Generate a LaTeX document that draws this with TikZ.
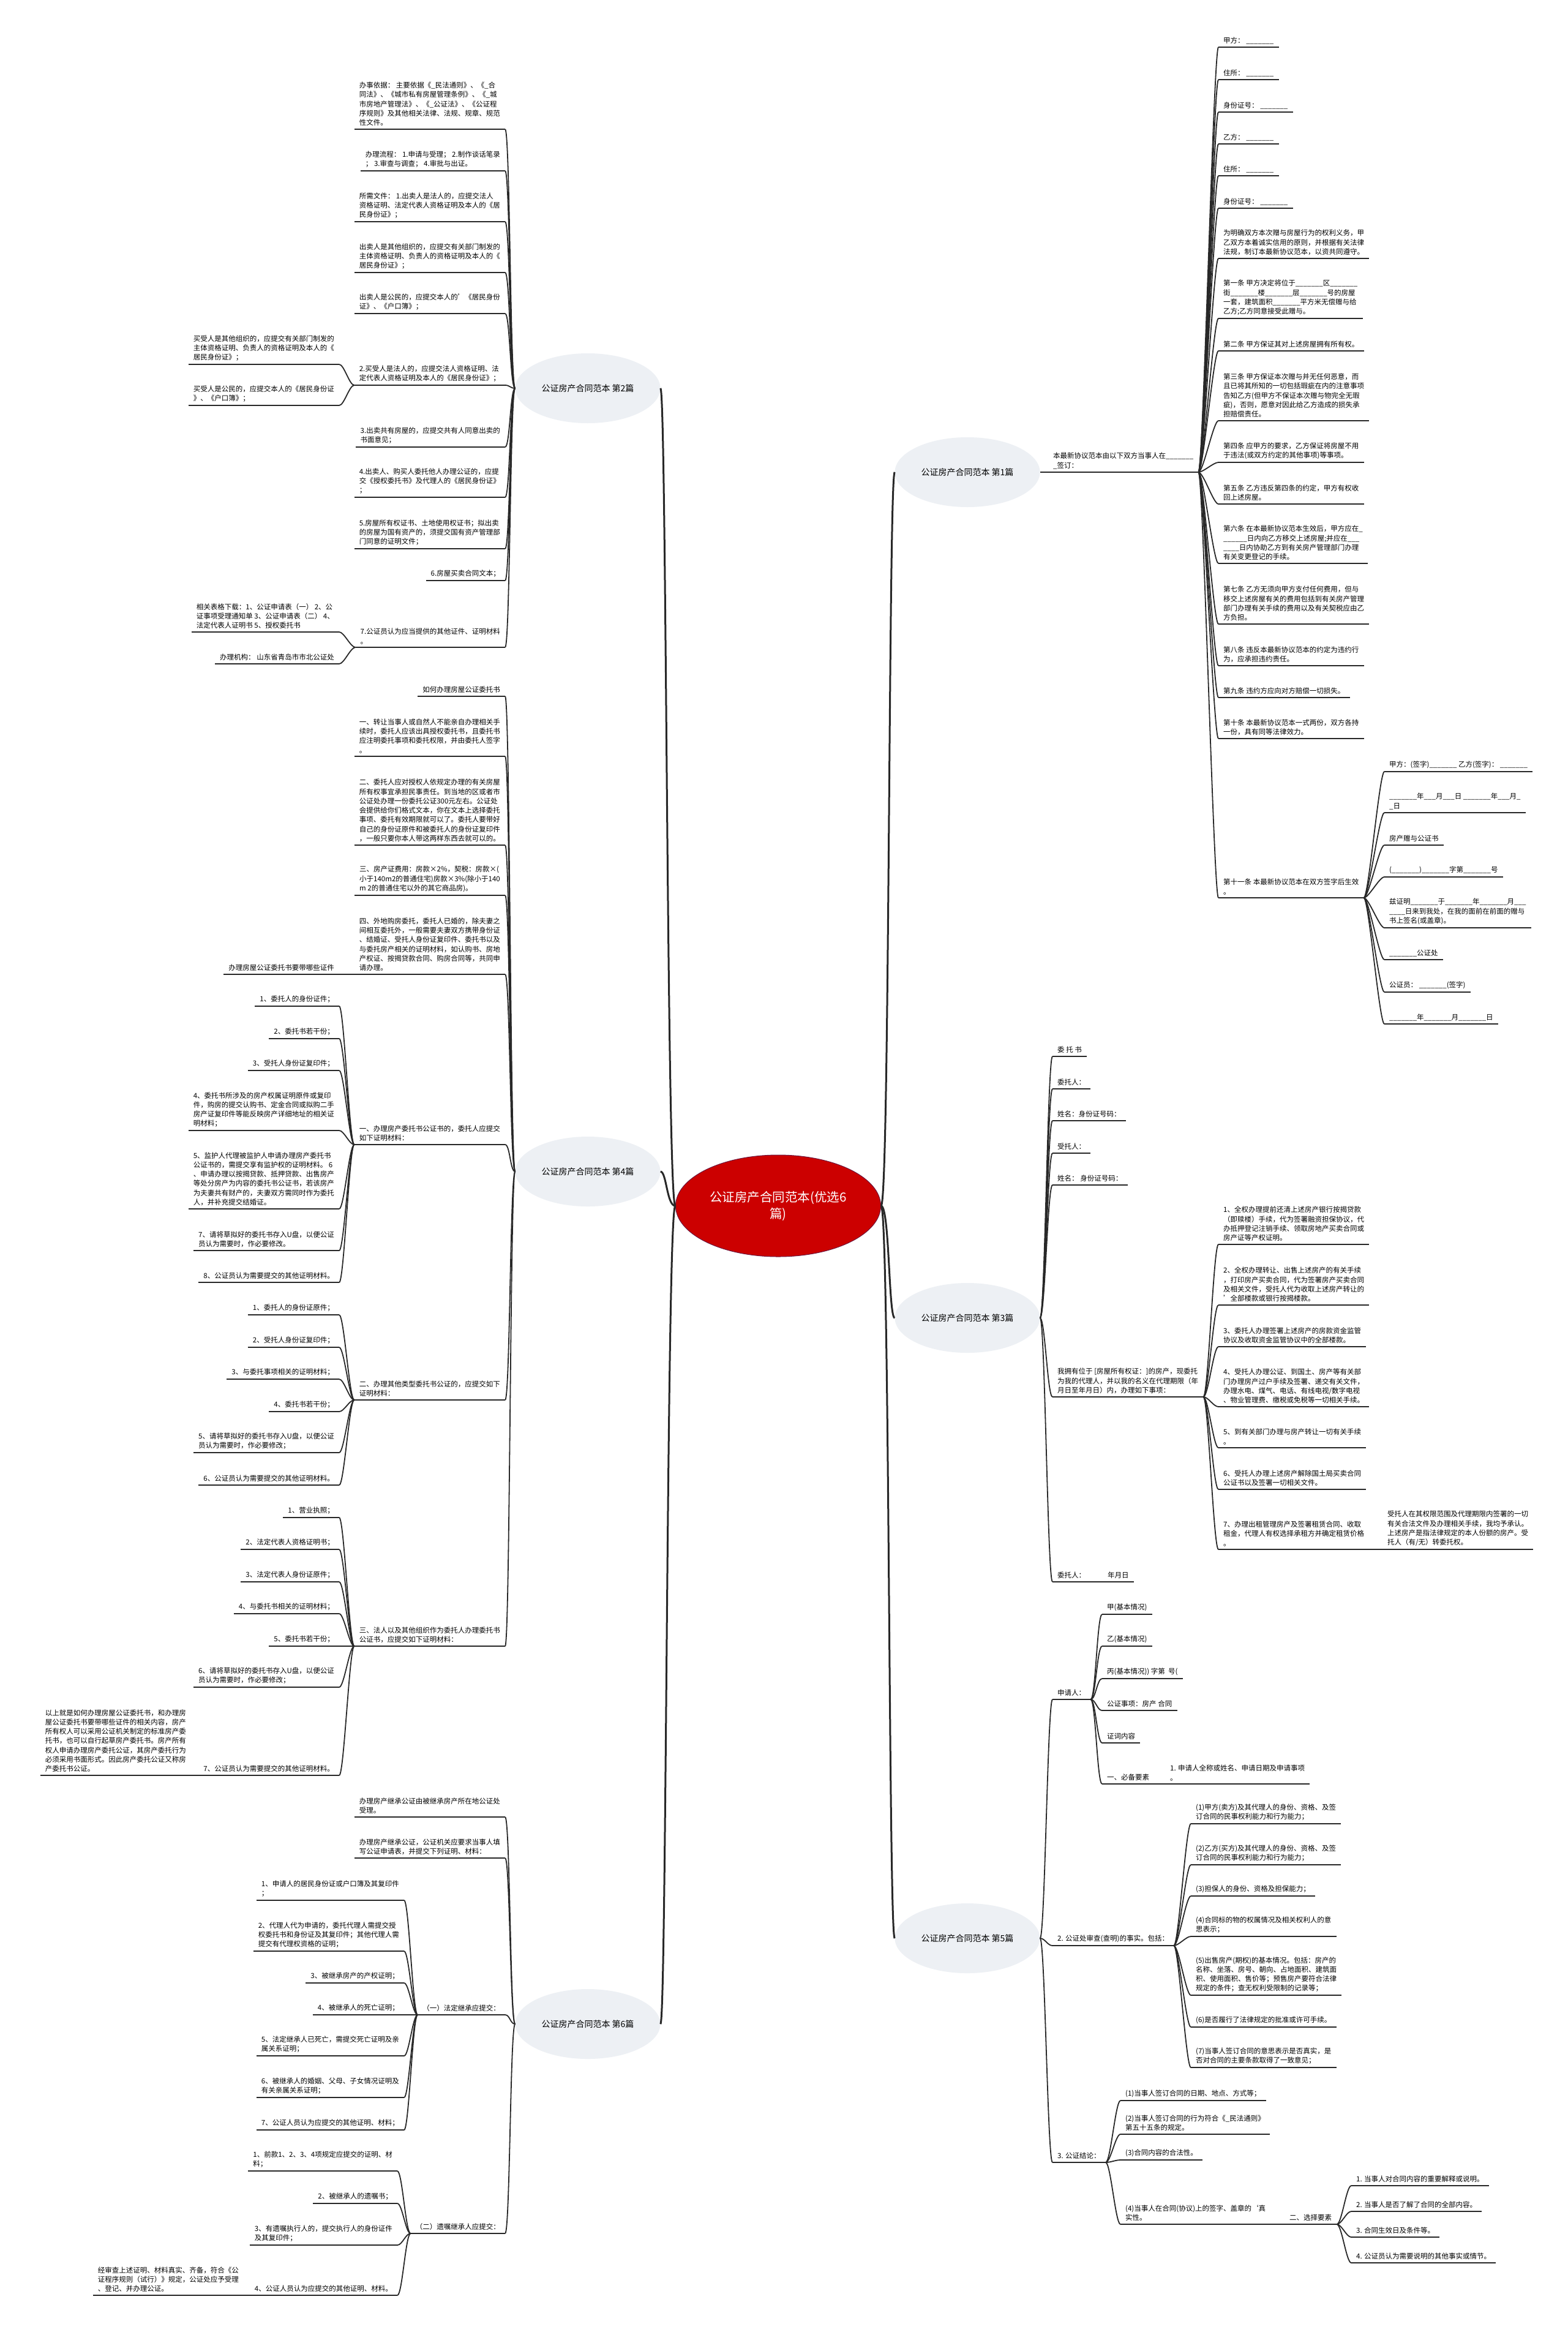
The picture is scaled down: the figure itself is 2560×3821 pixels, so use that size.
\documentclass[tikz,border=0pt]{standalone}
\usepackage{fontspec}
\setmainfont{Noto Sans CJK SC}
\usetikzlibrary{shapes.geometric}
\definecolor{rootred}{RGB}{204,0,0}
\definecolor{rootedge}{RGB}{110,20,60}
\definecolor{topicgray}{RGB}{237,240,244}
\definecolor{linegray}{RGB}{40,40,40}
\newcommand\leaffont{\fontsize{11.5pt}{15.3pt}\selectfont}
\newcommand\topicfont{\fontsize{14pt}{17pt}\selectfont}
\newcommand\rootfont{\fontsize{20.5pt}{27pt}\selectfont}
\begin{document}
\catcode`\_=12
\begin{tikzpicture}[x=1pt,y=-1pt,
  root/.style={ellipse,fill=rootred,draw=rootedge,line width=1pt,text=white,font=\rootfont,align=center,minimum width=335pt,minimum height=166pt,inner sep=0pt},
  topic/.style={ellipse,fill=topicgray,font=\topicfont,minimum width=237pt,minimum height=114pt,inner sep=0pt},
  uline/.style={draw=linegray,line width=1.8pt},
  leaf/.style={font=\leaffont,align=left,inner xsep=8pt,inner ysep=5pt,
    append after command={(\tikzlastnode.south west) edge[uline] (\tikzlastnode.south east)}},
  lr/.style={leaf,anchor=south west},
  ll/.style={leaf,anchor=south east},
  link/.style={draw=linegray,line width=1.8pt},
  trunk/.style={draw=linegray,line width=3pt},
  rc/.style={to path={.. controls +(8,0) and +(-8,0) .. (\tikztotarget)}},
  lc/.style={to path={.. controls +(-8,0) and +(8,0) .. (\tikztotarget)}}]

\fill[white] (0,0) rectangle (2560,3821);
\useasboundingbox (0,0) rectangle (2560,3821);

\node[root] (root) at (1271,1969) {公证房产合同范本(优选6\\篇)};

\node[topic] (b1) at (1580,771) {公证房产合同范本 第1篇};
\node[topic] (b2) at (960,634) {公证房产合同范本 第2篇};
\node[topic] (b3) at (1580,2152) {公证房产合同范本 第3篇};
\node[topic] (b4) at (960,1913) {公证房产合同范本 第4篇};
\node[topic] (b5) at (1580,3165) {公证房产合同范本 第5篇};
\node[topic] (b6) at (960,3305) {公证房产合同范本 第6篇};

% 第1篇
\node[lr] (n1) at (1712,771) {本最新协议范本由以下双方当事人在_______\\_签订：};
\node[lr] (a1) at (1990,77) {甲方： _______};
\node[lr] (a2) at (1990,130) {住所： _______};
\node[lr] (a3) at (1990,183) {身份证号： _______};
\node[lr] (a4) at (1990,235) {乙方： _______};
\node[lr] (a5) at (1990,287) {住所： _______};
\node[lr] (a6) at (1990,340) {身份证号： _______};
\node[lr] (a7) at (1990,422) {为明确双方本次赠与房屋行为的权利义务，甲\\乙双方本着诚实信用的原则，并根据有关法律\\法规，制订本最新协议范本，以资共同遵守。};
\node[lr] (a8) at (1990,520) {第一条 甲方决定将位于_______区_______\\街_______楼_______层_______号的房屋\\一套，建筑面积_______平方米无偿赠与给\\乙方;乙方同意接受此赠与。};
\node[lr] (a9) at (1990,573) {第二条 甲方保证其对上述房屋拥有所有权。};
\node[lr] (a10) at (1990,687) {第三条 甲方保证本次赠与并无任何恶意，而\\且已将其所知的一切包括瑕疵在内的注意事项\\告知乙方(但甲方不保证本次赠与物完全无瑕\\疵)，否则，愿意对因此给乙方造成的损失承\\担赔偿责任。};
\node[lr] (a11) at (1990,755) {第四条 应甲方的要求，乙方保证将房屋不用\\于违法(或双方约定的其他事项)等事项。};
\node[lr] (a12) at (1990,823) {第五条 乙方违反第四条的约定，甲方有权收\\回上述房屋。};
\node[lr] (a13) at (1990,920) {第六条 在本最新协议范本生效后，甲方应在_\\______日内向乙方移交上述房屋;并应在___\\____日内协助乙方到有关房产管理部门办理\\有关变更登记的手续。};
\node[lr] (a14) at (1990,1019) {第七条 乙方无须向甲方支付任何费用，但与\\移交上述房屋有关的费用包括到有关房产管理\\部门办理有关手续的费用以及有关契税应由乙\\方负担。};
\node[lr] (a15) at (1990,1087) {第八条 违反本最新协议范本的约定为违约行\\为，应承担违约责任。};
\node[lr] (a16) at (1990,1139) {第九条 违约方应向对方赔偿一切损失。};
\node[lr] (a17) at (1990,1206) {第十条 本最新协议范本一式两份，双方各持\\一份，具有同等法律效力。};
\node[lr] (a18) at (1990,1466) {第十一条 本最新协议范本在双方签字后生效\\。};
\node[lr] (c1) at (2261,1260) {甲方：(签字)_______ 乙方(签字)： _______};
\node[lr] (c2) at (2261,1327) {_______年___月___日 _______年___月_\\_日};
\node[lr] (c3) at (2261,1380) {房产赠与公证书};
\node[lr] (c4) at (2261,1432) {(_______)_______字第_______号};
\node[lr] (c5) at (2261,1515) {兹证明_______于_______年_______月___\\____日来到我处，在我的面前在前面的赠与\\书上签名(或盖章)。};
\node[lr] (c6) at (2261,1567) {_______公证处};
\node[lr] (c7) at (2261,1620) {公证员： _______(签字)};
\node[lr] (c8) at (2261,1672) {_______年_______月_______日};

% 第2篇
\node[ll] (p1) at (825,211) {办事依据： 主要依据《_民法通则》、《_合\\同法》、《城市私有房屋管理条例》、《_城\\市房地产管理法》、《_公证法》、《公证程\\序规则》及其他相关法律、法规、规章、规范\\性文件。};
\node[ll] (p2) at (825,279) {办理流程： 1.申请与受理； 2.制作谈话笔录\\； 3.审查与调查； 4.审批与出证。};
\node[ll] (p3) at (825,362) {所需文件： 1.出卖人是法人的，应提交法人\\资格证明、法定代表人资格证明及本人的《居\\民身份证》；};
\node[ll] (p4) at (825,445) {出卖人是其他组织的，应提交有关部门制发的\\主体资格证明、负责人的资格证明及本人的《\\居民身份证》；};
\node[ll] (p5) at (825,512) {出卖人是公民的，应提交本人的'《居民身份\\证》、《户口簿》；};
\node[ll] (p6) at (825,629) {2.买受人是法人的，应提交法人资格证明、法\\定代表人资格证明及本人的《居民身份证》；};
\node[ll] (q1) at (554,595) {买受人是其他组织的，应提交有关部门制发的\\主体资格证明、负责人的资格证明及本人的《\\居民身份证》；};
\node[ll] (q2) at (554,662) {买受人是公民的，应提交本人的《居民身份证\\》、《户口簿》；};
\node[ll] (p7) at (825,730) {3.出卖共有房屋的，应提交共有人同意出卖的\\书面意见；};
\node[ll] (p8) at (825,812) {4.出卖人、购买人委托他人办理公证的，应提\\交《授权委托书》及代理人的《居民身份证》\\；};
\node[ll] (p9) at (825,896) {5.房屋所有权证书、土地使用权证书；拟出卖\\的房屋为国有资产的，须提交国有资产管理部\\门同意的证明文件；};
\node[ll] (p10) at (825,948) {6.房屋买卖合同文本；};
\node[ll] (p11) at (825,1057) {7.公证员认为应当提供的其他证件、证明材料\\。};
\node[ll] (q3) at (554,1032) {相关表格下载：1、公证申请表（一） 2、公\\证事项受理通知单 3、公证申请表（二） 4、\\法定代表人证明书 5、授权委托书};
\node[ll] (q4) at (554,1084) {办理机构： 山东省青岛市市北公证处};

% 第3篇
\node[lr] (d1) at (1719,1725) {委 托 书};
\node[lr] (d2) at (1719,1778) {委托人：};
\node[lr] (d3) at (1719,1830) {姓名：身份证号码：};
\node[lr] (d4) at (1719,1883) {受托人：};
\node[lr] (d5) at (1719,1935) {姓名： 身份证号码：};
\node[lr] (d6) at (1719,2281) {我拥有位于 [房屋所有权证：]的房产，现委托\\为我的代理人，并以我的名义在代理期限（年\\月日至年月日）内，办理如下事项：};
\node[lr] (e1) at (1990,2032) {1、全权办理提前还清上述房产银行按揭贷款\\（即赎楼）手续，代为签署融资担保协议，代\\办抵押登记注销手续、领取房地产买卖合同或\\房产证等产权证明。};
\node[lr] (e2) at (1990,2131) {2、全权办理转让、出售上述房产的有关手续\\，打印房产买卖合同，代为签署房产买卖合同\\及相关文件，受托人代为收取上述房产转让的\\'全部楼款或银行按揭楼款。};
\node[lr] (e3) at (1990,2199) {3、委托人办理签署上述房产的房款资金监管\\协议及收取资金监管协议中的全部楼款。};
\node[lr] (e4) at (1990,2297) {4、受托人办理公证、到国土、房产等有关部\\门办理房产过户手续及签署、递交有关文件，\\办理水电、煤气、电话、有线电视/数字电视\\、物业管理费、缴税或免税等一切相关手续。};
\node[lr] (e5) at (1990,2364) {5、到有关部门办理与房产转让一切有关手续\\。};
\node[lr] (e6) at (1990,2432) {6、受托人办理上述房产解除国土局买卖合同\\公证书以及签署一切相关文件。};
\node[lr] (e7) at (1990,2530) {7、办理出租管理房产及签署租赁合同、收取\\租金，代理人有权选择承租方并确定租赁价格\\。};
\node[lr] (f1) at (2258,2530) {受托人在其权限范围及代理期限内签署的一切\\有关合法文件及办理相关手续，我均予承认。\\上述房产是指法律规定的本人份额的房产。受\\托人（有/无）转委托权。};
\node[lr] (d7) at (1719,2583) {委托人：\hspace{36pt}年月日};

% 第4篇
\node[ll] (s0) at (825,1137) {如何办理房屋公证委托书};
\node[ll] (s1) at (825,1235) {一、转让当事人或自然人不能亲自办理相关手\\续时，委托人应该出具授权委托书，且委托书\\应注明委托事项和委托权限，并由委托人签字\\。};
\node[ll] (s2) at (825,1380) {二、委托人应对授权人依规定办理的有关房屋\\所有权事宜承担民事责任。到当地的区或者市\\公证处办理一份委托公证300元左右。公证处\\会提供给你们格式文本，你在文本上选择委托\\事项、委托有效期限就可以了。委托人要带好\\自己的身份证原件和被委托人的身份证复印件\\，一般只要你本人带这两样东西去就可以的。};
\node[ll] (s3) at (825,1462) {三、房产证费用：房款×2\%，契税：房款×(\\小于140m2的普通住宅)房款×3\%(除小于140\\m 2的普通住宅以外的其它商品房)。};
\node[ll] (s4) at (825,1591) {四、外地购房委托，委托人已婚的，除夫妻之\\间相互委托外，一般需要夫妻双方携带身份证\\、结婚证、受托人身份证复印件、委托书以及\\与委托房产相关的证明材料，如认购书、房地\\产权证、按揭贷款合同、购房合同等，共同申\\请办理。};
\node[ll] (t0) at (554,1591) {办理房屋公证委托书要带哪些证件};
\node[ll] (s5) at (825,1869) {一、办理房产委托书公证书的，委托人应提交\\如下证明材料：};
\node[ll] (u1) at (554,1643) {1、委托人的身份证件；};
\node[ll] (u2) at (554,1696) {2、委托书若干份；};
\node[ll] (u3) at (554,1748) {3、受托人身份证复印件；};
\node[ll] (u4) at (554,1846) {4、委托书所涉及的房产权属证明原件或复印\\件，购房的提交认购书、定金合同或拟购二手\\房产证复印件等能反映房产详细地址的相关证\\明材料；};
\node[ll] (u5) at (554,1974) {5、监护人代理被监护人申请办理房产委托书\\公证书的，需提交享有监护权的证明材料。 6\\、申请办理以按揭贷款、抵押贷款、出售房产\\等处分房产为内容的委托书公证书，若该房产\\为夫妻共有财产的，夫妻双方需同时作为委托\\人，并补充提交结婚证。};
\node[ll] (u6) at (554,2042) {7、请将草拟好的委托书存入U盘，以便公证\\员认为需要时，作必要修改。};
\node[ll] (u7) at (554,2094) {8、公证员认为需要提交的其他证明材料。};
\node[ll] (s6) at (825,2286) {二、办理其他类型委托书公证的，应提交如下\\证明材料：};
\node[ll] (v1) at (554,2147) {1、委托人的身份证原件；};
\node[ll] (v2) at (554,2200) {2、受托人身份证复印件；};
\node[ll] (v3) at (554,2252) {3、与委托事项相关的证明材料；};
\node[ll] (v4) at (554,2305) {4、委托书若干份；};
\node[ll] (v5) at (554,2372) {5、请将草拟好的委托书存入U盘，以便公证\\员认为需要时，作必要修改；};
\node[ll] (v6) at (554,2425) {6、公证员认为需要提交的其他证明材料。};
\node[ll] (s7) at (825,2688) {三、法人以及其他组织作为委托人办理委托书\\公证书，应提交如下证明材料：};
\node[ll] (w1) at (554,2478) {1、营业执照；};
\node[ll] (w2) at (554,2530) {2、法定代表人资格证明书；};
\node[ll] (w3) at (554,2583) {3、法定代表人身份证原件；};
\node[ll] (w4) at (554,2635) {4、与委托书相关的证明材料；};
\node[ll] (w5) at (554,2688) {5、委托书若干份；};
\node[ll] (w6) at (554,2755) {6、请将草拟好的委托书存入U盘，以便公证\\员认为需要时，作必要修改；};
\node[ll] (w7) at (554,2899) {7、公证员认为需要提交的其他证明材料。};
\node[ll] (x0) at (312,2899) {以上就是如何办理房屋公证委托书，和办理房\\屋公证委托书要带哪些证件的相关内容，房产\\所有权人可以采用公证机关制定的标准房产委\\托书，也可以自行起草房产委托书。房产所有\\权人申请办理房产委托公证，其房产委托行为\\必须采用书面形式。因此房产委托公证又称房\\产委托书公证。};

% 第5篇
\node[lr] (g1) at (1719,2775) {申请人：};
\node[lr] (h1) at (1800,2636) {甲(基本情况)};
\node[lr] (h2) at (1800,2688) {乙(基本情况)};
\node[lr] (h3) at (1800,2741) {丙(基本情况)) 字第\ \ 号(};
\node[lr] (h4) at (1800,2793) {公证事项：房产 合同};
\node[lr] (h5) at (1800,2846) {证词内容};
\node[lr] (h6) at (1800,2913) {一、必备要素};
\node[lr] (i1) at (1903,2913) {1. 申请人全称或姓名、申请日期及申请事项\\。};
\node[lr] (g2) at (1719,3177) {2. 公证处审查(查明)的事实。包括：};
\node[lr] (j1) at (1945,2978) {(1)甲方(卖方)及其代理人的身份、资格、及签\\订合同的民事权利能力和行为能力；};
\node[lr] (j2) at (1945,3045) {(2)乙方(买方)及其代理人的身份、资格、及签\\订合同的民事权利能力和行为能力；};
\node[lr] (j3) at (1945,3096) {(3)担保人的身份、资格及担保能力；};
\node[lr] (j4) at (1945,3162) {(4)合同标的物的权属情况及相关权利人的意\\思表示；};
\node[lr] (j5) at (1945,3258) {(5)出售房产(期权)的基本情况。包括：房产的\\名称、坐落、房号、朝向、占地面积、建筑面\\积、使用面积、售价等；预售房产要符合法律\\规定的条件；查无权利受限制的记录等；};
\node[lr] (j6) at (1945,3310) {(6)是否履行了法律规定的批准或许可手续。};
\node[lr] (j7) at (1945,3376) {(7)当事人签订合同的意思表示是否真实，是\\否对合同的主要条款取得了一致意见；};
\node[lr] (g3) at (1719,3531) {3. 公证结论：};
\node[lr] (k1) at (1830,3430) {(1)当事人签订合同的日期、地点、方式等；};
\node[lr] (k2) at (1830,3485) {(2)当事人签订合同的行为符合《_民法通则》\\第五十五条的规定。};
\node[lr] (k3) at (1830,3527) {(3)合同内容的合法性。};
\node[lr] (k4) at (1830,3632) {(4)当事人在合同(协议)上的签字、盖章的`真\\实性。};
\node[lr] (m0) at (2098,3632) {二、选择要素};
\node[lr] (m1) at (2207,3569) {1. 当事人对合同内容的重要解释或说明。};
\node[lr] (m2) at (2207,3611) {2. 当事人是否了解了合同的全部内容。};
\node[lr] (m3) at (2207,3653) {3. 合同生效日及条件等。};
\node[lr] (m4) at (2207,3695) {4. 公证员认为需要说明的其他事实或情节。};

% 第6篇
\node[ll] (y1) at (825,2967) {办理房产继承公证由被继承房产所在地公证处\\受理。};
\node[ll] (y2) at (825,3034) {办理房产继承公证，公证机关应要求当事人填\\写公证申请表，并提交下列证明、材料：};
\node[ll] (y3) at (825,3290) {（一）法定继承应提交：};
\node[ll] (z1) at (660,3103) {1、申请人的居民身份证或户口簿及其复印件\\；};
\node[ll] (z2) at (660,3186) {2、代理人代为申请的，委托代理人需提交授\\权委托书和身份证及其复印件；其他代理人需\\提交有代理权资格的证明；};
\node[ll] (z3) at (660,3238) {3、被继承房产的产权证明；};
\node[ll] (z4) at (660,3290) {4、被继承人的死亡证明；};
\node[ll] (z5) at (660,3357) {5、法定继承人已死亡，需提交死亡证明及亲\\属关系证明；};
\node[ll] (z6) at (660,3425) {6、被继承人的婚姻、父母、子女情况证明及\\有关亲属关系证明；};
\node[ll] (z7) at (660,3478) {7、公证人员认为应提交的其他证明、材料；};
\node[ll] (y4) at (825,3647) {（二）遗嘱继承人应提交：};
\node[ll] (z8) at (649,3545) {1、前款1、2、3、4项规定应提交的证明、材\\料；};
\node[ll] (z9) at (649,3598) {2、被继承人的遗嘱书；};
\node[ll] (z10) at (649,3666) {3、有遗嘱执行人的，提交执行人的身份证件\\及其复印件；};
\node[ll] (z11) at (649,3748) {4、公证人员认为应提交的其他证明、材料。};
\node[ll] (z12) at (398,3748) {经审查上述证明、材料真实、齐备，符合《公\\证程序规则（试行）》规定，公证处应予受理\\、登记、并办理公证。};

\foreach \b in {b1,b3,b5}
  \draw[trunk] (root.east) .. controls +(14,0) and +(-10,0) .. (\b.west);
\foreach \b in {b2,b4,b6}
  \draw[trunk] (root.west) .. controls +(-14,0) and +(10,0) .. (\b.east);

\draw[link] (b1.east) -- (n1.south west);
\foreach \i in {1,...,18} \draw[link] (n1.south east) to[rc] (a\i.south west);
\foreach \i in {1,...,8} \draw[link] (a18.south east) to[rc] (c\i.south west);

\foreach \i in {1,...,11} \draw[link] (b2.west) to[lc] (p\i.south east);
\foreach \i in {1,2} \draw[link] (p6.south west) to[lc] (q\i.south east);
\foreach \i in {3,4} \draw[link] (p11.south west) to[lc] (q\i.south east);

\foreach \i in {1,...,7} \draw[link] (b3.east) to[rc] (d\i.south west);
\foreach \i in {1,...,7} \draw[link] (d6.south east) to[rc] (e\i.south west);
\draw[link] (e7.south east) -- (f1.south west);

\foreach \i in {0,...,7} \draw[link] (b4.west) to[lc] (s\i.south east);
\draw[link] (s4.south west) -- (t0.south east);
\foreach \i in {1,...,7} \draw[link] (s5.south west) to[lc] (u\i.south east);
\foreach \i in {1,...,6} \draw[link] (s6.south west) to[lc] (v\i.south east);
\foreach \i in {1,...,7} \draw[link] (s7.south west) to[lc] (w\i.south east);
\draw[link] (w7.south west) -- (x0.south east);

\foreach \i in {1,2,3} \draw[link] (b5.east) to[rc] (g\i.south west);
\foreach \i in {1,...,6} \draw[link] (g1.south east) to[rc] (h\i.south west);
\draw[link] (h6.south east) -- (i1.south west);
\foreach \i in {1,...,7} \draw[link] (g2.south east) to[rc] (j\i.south west);
\foreach \i in {1,...,4} \draw[link] (g3.south east) to[rc] (k\i.south west);
\draw[link] (k4.south east) -- (m0.south west);
\foreach \i in {1,...,4} \draw[link] (m0.south east) to[rc] (m\i.south west);

\foreach \i in {1,...,4} \draw[link] (b6.west) to[lc] (y\i.south east);
\foreach \i in {1,...,7} \draw[link] (y3.south west) to[lc] (z\i.south east);
\foreach \i in {8,...,11} \draw[link] (y4.south west) to[lc] (z\i.south east);
\draw[link] (z11.south west) -- (z12.south east);
\end{tikzpicture}
\end{document}
